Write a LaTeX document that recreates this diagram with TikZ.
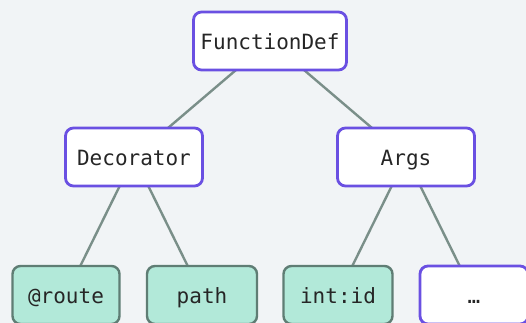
\documentclass[tikz,border=0pt]{standalone}
\usepackage{fontspec}
\setmonofont{DejaVu Sans Mono}
\pgfdeclarelayer{canvas}
\pgfdeclarelayer{links}
\pgfsetlayers{canvas,links,main}
\begin{document}
\begin{tikzpicture}[x=1pt,y=-1pt,
  astnode/.style={rounded corners=8pt, minimum height=58pt, inner sep=0pt,
    text height=19pt, text depth=2pt,
    font=\ttfamily\fontsize{21}{24}\selectfont, text=black!85},
  inner/.style={astnode, draw=purpleedge, fill=white, line width=2.8pt},
  leaf/.style={astnode, draw=leafedge, fill=leaffill, line width=2.4pt},
  edge/.style={draw=edgegray, line width=2.4pt}]
\definecolor{bg}{HTML}{F1F4F6}
\definecolor{purpleedge}{HTML}{6A50E2}
\definecolor{leafedge}{HTML}{5F7D74}
\definecolor{leaffill}{HTML}{B2E9D9}
\definecolor{edgegray}{HTML}{7A8F89}
\begin{pgfonlayer}{canvas}
\fill[bg] (0,0) rectangle (526,323);
\end{pgfonlayer}
\useasboundingbox (0,0) rectangle (526,323);
% tree nodes
\node[inner, minimum width=153pt] (fd) at (270,41) {FunctionDef};
\node[inner, minimum width=137pt] (dec) at (134,157) {Decorator};
\node[inner, minimum width=137pt] (args) at (406,157) {Args};
\node[leaf, minimum width=107pt] (route) at (66,295) {@route};
\node[leaf, minimum width=110pt] (path) at (202,295) {path};
\node[leaf, minimum width=109pt] (intid) at (338,295) {int:id};
\node[inner, minimum width=108pt] (more) at (474,295) {…};
% connectors run centre to centre, hidden under the boxes
\begin{pgfonlayer}{links}
\draw[edge] (fd.center) -- (dec.center);
\draw[edge] (fd.center) -- (args.center);
\draw[edge] (dec.center) -- (route.center);
\draw[edge] (dec.center) -- (path.center);
\draw[edge] (args.center) -- (intid.center);
\draw[edge] (args.center) -- (more.center);
\end{pgfonlayer}
\end{tikzpicture}
\end{document}
